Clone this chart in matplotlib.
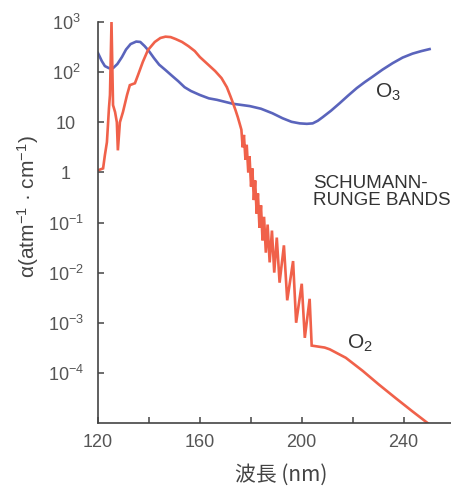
import matplotlib
matplotlib.use("Agg")
from matplotlib import pyplot as plt

plt.rcParams['font.family'] = ['Liberation Sans', 'DejaVu Sans']
plt.rcParams['mathtext.fontset'] = 'custom'
plt.rcParams['mathtext.rm'] = 'Liberation Sans'
plt.rcParams['mathtext.it'] = 'Liberation Sans:italic'
plt.rcParams['mathtext.bf'] = 'Liberation Sans:bold'

# O3 absorption coefficient (atm^-1 cm^-1) vs wavelength (nm)
o3_wl = [120.0, 121.5, 122.7, 124.3, 125.9, 127.6, 129.4, 131.0, 132.8, 135.0,
         136.6, 138.3, 140.0, 142.0, 144.0, 146.5, 149.0, 151.5, 154.0, 156.5,
         160.0, 163.5, 166.7, 172.9, 179.6, 184.0, 188.5, 192.5, 196.0, 199.2,
         202.0, 204.3, 206.3, 208.2, 211.5, 214.9, 218.2, 221.6, 224.7, 227.8,
         231.7, 235.7, 239.6, 243.5, 247.0, 250.2]
o3_val = [240, 166, 132, 120, 120, 145, 200, 282, 363, 407,
          400, 331, 263, 190, 141, 110, 85, 66, 50, 42,
          35, 30, 28, 23.4, 21, 18.6, 15.1, 12, 10.2, 9.5,
          9.3, 9.5, 10.7, 12.6, 17, 24, 34, 48, 63, 81,
          112, 151, 195, 234, 263, 288]

# O2 absorption coefficient, incl. the Schumann-Runge bands
o2_wl = [120.0, 122.0, 122.7, 123.5, 123.9, 124.3, 124.7, 125.3, 125.9, 126.7,
         127.4, 127.8, 128.6, 129.8, 131.4, 132.5, 134.5, 135.7, 137.6, 139.6,
         142.3, 144.5, 146.5, 148.5, 150.5, 153.0, 155.5, 158.0, 160.0, 163.0,
         166.0, 168.5, 170.6, 172.0, 172.9, 174.0, 174.9, 175.7, 176.3,
         176.8, 177.3, 177.9, 178.4, 179.0, 179.5, 180.1, 180.6, 181.2, 181.7,
         182.3, 182.8, 183.4, 184.0, 184.6, 185.2, 185.9, 186.6, 187.4, 188.3,
         189.2, 190.2, 191.3, 193.0, 194.3, 196.6, 197.8, 200.0, 201.2, 203.1,
         203.9, 209.0, 211.0, 217.3, 223.9, 230.2, 236.8, 243.5, 249.4]
o2_val = [1.1, 1.2, 2.2, 4.0, 8.7, 19, 35, 1000, 22, 16,
          10, 2.75, 10, 16, 35, 55, 60, 87, 160, 275,
          400, 480, 510, 500, 457, 400, 330, 263, 200, 145,
          105, 76, 50, 33, 25, 17.4, 12.6, 9.1, 7.1,
          3.16, 5.6, 1.78, 3.55, 1.0, 2.1, 0.52, 1.2, 0.28, 0.69,
          0.15, 0.38, 0.079, 0.22, 0.044, 0.13, 0.025, 0.091, 0.016, 0.069,
          0.01, 0.05, 0.0063, 0.035, 0.0028, 0.017, 0.001, 0.006, 0.0005, 0.003,
          0.00035, 0.00032, 0.000295, 0.0002, 0.00011, 5.9e-5, 3.16e-5, 1.7e-5, 1.0e-5]

x_ticks = [120, 160, 200, 240]
x_minor = [140, 180, 220]
y_ticks = [1e3, 1e2, 1e1, 1e0, 1e-1, 1e-2, 1e-3, 1e-4]
y_labels = ['10$^{3}$', '10$^{2}$', '10', '1', '10$^{-1}$', '10$^{-2}$',
            '10$^{-3}$', '10$^{-4}$']

blue = '#5a64bc'
red = '#f0614a'
grey = '#444444'

fig = plt.figure(figsize=(4.52, 4.87), dpi=100)
ax = fig.add_axes([98 / 452, 1 - 423 / 487, 354 / 452, 401 / 487])

ax.plot(o3_wl, o3_val, color=blue, lw=1.9, solid_joinstyle='round')
ax.plot(o2_wl, o2_val, color=red, lw=1.9, solid_joinstyle='miter')

ax.set_yscale('log')
ax.set_xlim(120, 259)
ax.set_ylim(1e-5, 1e3)

ax.spines['top'].set_visible(False)
ax.spines['right'].set_visible(False)
for s in ('left', 'bottom'):
    ax.spines[s].set_color(grey)
    ax.spines[s].set_linewidth(1.2)

ax.set_xticks(x_ticks)
ax.set_xticks(x_minor, minor=True)
ax.set_yticks(y_ticks)
ax.set_yticklabels(y_labels)
ax.yaxis.set_minor_locator(matplotlib.ticker.NullLocator())
ax.tick_params(axis='both', which='both', direction='in', length=4, width=1.1,
               color=grey, labelcolor='#555555', labelsize=13)
ax.tick_params(axis='x', which='major', pad=8)
ax.tick_params(axis='y', which='major', pad=23)
for lab in ax.get_yticklabels():
    lab.set_horizontalalignment('center')

ax.set_xlabel('波長 (nm)', family=['Noto Sans CJK JP', 'DejaVu Sans'],
              fontsize=15, color='#444444', va='center')
ax.xaxis.set_label_coords(0.517, -0.13)
ax.set_ylabel('α(atm$^{-1}$ · cm$^{-1}$)', fontsize=15, color='#444444',
              va='center')
ax.yaxis.set_label_coords(-0.198, 0.54)

ax.text(233.7, 40, 'O$_{3}$', fontsize=15, color='#333333',
        ha='center', va='center')
ax.text(222.7, 3.8e-4, 'O$_{2}$', fontsize=15, color='#333333',
        ha='center', va='center')
ax.text(204.3, 0.87, 'SCHUMANN-\nRUNGE BANDS', fontsize=13.5, color='#333333',
        ha='left', va='top', linespacing=0.95)

fig.savefig('out.png', dpi=100)
